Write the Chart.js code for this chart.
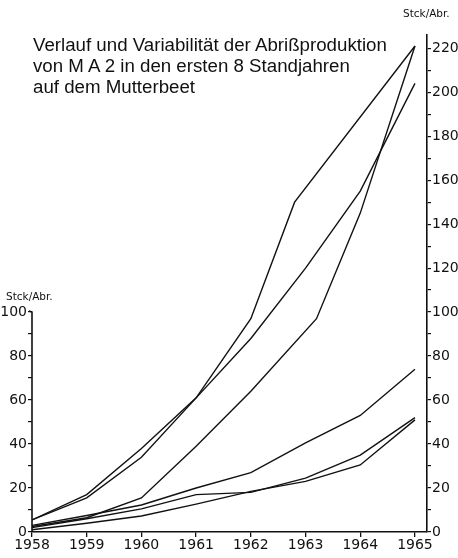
<!DOCTYPE html>
<html>
<head>
<meta charset="utf-8">
<script src="https://cdn.jsdelivr.net/npm/chart.js@4/dist/chart.umd.min.js"></script>
<style>
  html, body { margin: 0; padding: 0; background: #fff; }
  #wrap { position: relative; width: 458px; height: 558px; }
  #title {
    position: absolute; left: 33px; top: 34px;
    font: 18.7px "Liberation Sans", "DejaVu Sans", sans-serif;
    line-height: 21px; color: #111; white-space: nowrap;
  }
  .unit {
    position: absolute; font: 10.5px "DejaVu Sans", sans-serif; color: #111;
  }
</style>
</head>
<body>
<div id="wrap">
  <canvas id="chart" width="458" height="558"></canvas>
  <div id="title">Verlauf und Variabilität der Abrißproduktion<br>von M A 2 in den ersten 8 Standjahren<br>auf dem Mutterbeet</div>
  <div class="unit" style="left:6px; top:290px;">Stck/Abr.</div>
  <div class="unit" style="left:403px; top:7px;">Stck/Abr.</div>
</div>
<script>
// ===== Data =====
const yearTicks = [1958, 1959, 1960, 1961, 1962, 1963, 1964, 1965];

const yearsA = [1958, 1959, 1960, 1961, 1962, 1962.8, 1965];
const valuesA = [5.5, 17, 38, 61, 97, 150, 221];

const yearsB = [1958, 1959, 1960, 1961, 1962, 1963, 1964, 1965];
const valuesB = [5.5, 15.5, 34, 61, 88, 120, 155, 204];

const yearsC = [1958, 1959, 1960, 1961, 1962, 1963.2, 1964, 1965];
const valuesC = [2.5, 6.5, 15.5, 39, 64, 97, 145, 221];

const yearsD = [1958, 1959, 1960, 1961, 1962, 1963, 1964, 1965];
const valuesD = [3, 7.5, 12.3, 20, 27, 40.5, 53, 74];

const yearsE = [1958, 1959, 1960, 1961, 1962, 1963, 1964, 1965];
const valuesE = [2, 6, 10.5, 17, 18, 24.5, 35, 52];

const yearsF = [1958, 1959, 1960, 1961, 1962, 1963, 1964, 1965];
const valuesF = [1, 4, 7.3, 12.7, 18.5, 23, 30.5, 51];

const series = [
    [yearsA, valuesA], [yearsB, valuesB], [yearsC, valuesC],
    [yearsD, valuesD], [yearsE, valuesE], [yearsF, valuesF]
];

// ===== Build datasets =====
const datasets = series.map(([xs, ys]) => ({
    data: xs.map((x, i) => ({ x: x, y: ys[i] })),
    borderColor: "#111",
    borderWidth: 1.4,
    pointRadius: 0,
    tension: 0,
    fill: false,
    yAxisID: "y2"
}));

// left axis line only goes from 0 to 100
const leftAxisLine = {
    id: "leftAxisLine",
    afterDraw(chart) {
        const s = chart.scales.y;
        const ctx = chart.ctx;
        const x = chart.chartArea.left;
        ctx.save();
        ctx.strokeStyle = "#111";
        ctx.lineWidth = 1.6;
        ctx.beginPath();
        ctx.moveTo(x - 3, s.getPixelForValue(100) - 1);
        ctx.lineTo(x, s.getPixelForValue(100));
        ctx.lineTo(x, s.getPixelForValue(0));
        ctx.stroke();
        ctx.restore();
    }
};

const tickFont = { family: "DejaVu Sans", size: 14 };

new Chart(document.getElementById("chart"), {
    type: "line",
    data: { datasets: datasets },
    options: {
        responsive: false,
        animation: false,
        layout: { padding: { top: 35, right: 0, bottom: 0, left: 0 } },
        plugins: { legend: { display: false }, tooltip: { enabled: false } },
        scales: {
            x: {
                type: "linear",
                min: 1958,
                max: 1965.22,
                afterBuildTicks: (s) => { s.ticks = yearTicks.map(v => ({ value: v })); },
                afterFit: (s) => { s.height = 26; },
                ticks: {
                    autoSkip: false,
                    maxRotation: 0,
                    padding: 0,
                    color: "#111",
                    font: tickFont,
                    callback: (v) => String(v)
                },
                grid: { drawOnChartArea: false, tickLength: 5, color: "#111", lineWidth: 1.3 },
                border: { color: "#111", width: 1.6 }
            },
            y: {
                position: "left",
                min: 0,
                max: 226,
                afterBuildTicks: (s) => {
                    const t = [];
                    for (let v = 0; v <= 100; v += 10) t.push({ value: v });
                    s.ticks = t;
                },
                afterFit: (s) => { s.width = 32; },
                ticks: {
                    padding: 1,
                    color: "#111",
                    font: tickFont,
                    callback: (v) => (v % 20 === 0 ? String(v) : "")
                },
                grid: { drawOnChartArea: false, tickLength: 4, color: "#111", lineWidth: 1.2 },
                border: { display: false }
            },
            y2: {
                position: "right",
                min: 0,
                max: 226,
                afterBuildTicks: (s) => {
                    const t = [];
                    for (let v = 0; v <= 220; v += 10) t.push({ value: v });
                    s.ticks = t;
                },
                afterFit: (s) => { s.width = 31; },
                ticks: {
                    padding: 1,
                    color: "#111",
                    font: tickFont,
                    callback: (v) => (v % 20 === 0 ? String(v) : "")
                },
                grid: { drawOnChartArea: false, tickLength: 4, color: "#111", lineWidth: 1.2 },
                border: { color: "#111", width: 1.6 }
            }
        }
    },
    plugins: [leftAxisLine]
});
</script>
</body>
</html>
